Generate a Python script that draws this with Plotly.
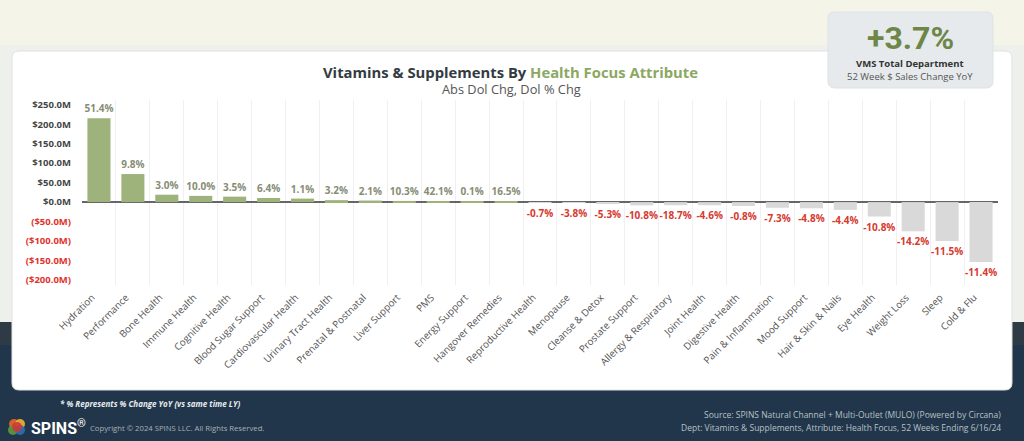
import plotly.graph_objects as go

categories = ["Hydration", "Performance", "Bone Health", "Immune Health", "Cognitive Health",
              "Blood Sugar Support", "Cardiovascular Health", "Urinary Tract Health",
              "Prenatal & Postnatal", "Liver Support", "PMS", "Energy Support", "Hangover Remedies",
              "Reproductive Health", "Menopause", "Cleanse & Detox", "Prostate Support",
              "Allergy & Respiratory", "Joint Health", "Digestive Health", "Pain & Inflammation",
              "Mood Support", "Hair & Skin & Nails", "Eye Health", "Weight Loss", "Sleep", "Cold & Flu"]
abs_dol_chg_m = [215, 72, 19, 16, 14, 10.5, 9, 5, 4, 3, 2, 1, 0.6,
                 -0.6, -1.5, -5, -8.5, -8, -8, -10, -14.5, -16, -20, -37, -75, -100, -154]
pct_chg = ["51.4%", "9.8%", "3.0%", "10.0%", "3.5%", "6.4%", "1.1%", "3.2%", "2.1%", "10.3%",
           "42.1%", "0.1%", "16.5%", "-0.7%", "-3.8%", "-5.3%", "-10.8%", "-18.7%", "-4.6%",
           "-0.8%", "-7.3%", "-4.8%", "-4.4%", "-10.8%", "-14.2%", "-11.5%", "-11.4%"]
y_tick_vals = [250, 200, 150, 100, 50, 0, -50, -100, -150, -200]
y_tick_text = ["$250.0M", "$200.0M", "$150.0M", "$100.0M", "$50.0M", "$0.0M",
               "($50.0M)", "($100.0M)", "($150.0M)", "($200.0M)"]

W, H = 1024, 441
L, R, T, B = 82, 998, 100, 285
PW, PH = R - L, B - T


def px(x):
    return (x - L) / PW


def py(y):
    return (B - y) / PH


def rrect(x0, y0, x1, y1, r):
    pts = [
        ("M", [(x0 + r, y0)]), ("L", [(x1 - r, y0)]), ("Q", [(x1, y0), (x1, y0 + r)]),
        ("L", [(x1, y1 - r)]), ("Q", [(x1, y1), (x1 - r, y1)]), ("L", [(x0 + r, y1)]),
        ("Q", [(x0, y1), (x0, y1 - r)]), ("L", [(x0, y0 + r)]), ("Q", [(x0, y0), (x0 + r, y0)]),
    ]
    s = ""
    for cmd, ps in pts:
        s += cmd + " " + " ".join(f"{px(a):.5f},{py(b):.5f}" for a, b in ps) + " "
    return s + "Z"


GREEN = "#9db37b"
GRAY = "#d9d9d9"
RED = "#d63a30"

colors = [GREEN if v >= 0 else GRAY for v in abs_dol_chg_m]
text_colors = ["#868d76" if v >= 0 else RED for v in abs_dol_chg_m]

fig = go.Figure()
fig.add_trace(go.Bar(
    x=categories, y=abs_dol_chg_m, marker_color=colors, marker_line_width=0,
    text=[f"<b>{p}</b>" for p in pct_chg], textposition="outside",
    textfont=dict(size=10, color=text_colors, family="Open Sans"),
    constraintext="none", cliponaxis=False, hoverinfo="skip",
))

shapes = []
# background bands
shapes.append(dict(type="rect", xref="paper", yref="paper", x0=px(0), x1=px(W), y0=py(322), y1=py(45),
                   fillcolor="#eef0eb", line_width=0, layer="below"))
shapes.append(dict(type="rect", xref="paper", yref="paper", x0=px(0), x1=px(W), y0=py(H), y1=py(322),
                   fillcolor="#21364a", line_width=0, layer="below"))
shapes.append(dict(type="rect", xref="paper", yref="paper", x0=px(0), x1=px(W), y0=py(345), y1=py(322),
                   fillcolor="#2e3a44", line_width=0, layer="below"))
# white panel
shapes.append(dict(type="path", xref="paper", yref="paper", path=rrect(12, 51, 1012, 390, 7),
                   fillcolor="white", line=dict(color="#e2e2e2", width=1), layer="below"))
# KPI box
shapes.append(dict(type="path", xref="paper", yref="paper", path=rrect(828, 12, 993, 88, 7),
                   fillcolor="#e6eaec", line=dict(color="#dde2e5", width=1), layer="above"))
# SPINS logo
logo = [(14, 424, "#e8662a"), (20, 424, "#f2b233"), (13, 430, "#5a9a3c"), (20, 430, "#2f6fb0"), (17, 427, "#c93a3a")]
for cx, cy, c in logo:
    shapes.append(dict(type="circle", xref="paper", yref="paper", x0=px(cx - 5), x1=px(cx + 5),
                       y0=py(cy + 5), y1=py(cy - 5), fillcolor=c, line_width=0, opacity=0.9, layer="above"))

ann = []


def add_text(x, y, text, size, color, xanchor="center", family="Open Sans"):
    ann.append(dict(x=px(x), y=py(y), xref="paper", yref="paper", text=text, showarrow=False,
                    xanchor=xanchor, yanchor="middle", font=dict(size=size, color=color, family=family)))


add_text(510, 72, "<b><span style='color:#333b42'>Vitamins &amp; Supplements By </span>"
                  "<span style='color:#8ba862'>Health Focus Attribute</span></b>", 14.8, "#333b42")
add_text(511, 89, "Abs Dol Chg, Dol % Chg", 12.8, "#555555")
add_text(910, 38, "<b>+3.7%</b>", 32, "#6c8748", family="Roboto")
add_text(910, 63, "<b>VMS Total Department</b>", 9.5, "#333333")
add_text(910, 76, "52 Week $ Sales Change YoY", 9.5, "#555555")
add_text(58, 403, "<b><i>* % Represents % Change YoY (vs same time LY)</i></b>", 8, "#e8ecef", xanchor="left")
add_text(29, 427, "<b>SPINS</b><sup>®</sup>", 16, "#ffffff", xanchor="left", family="Roboto")
add_text(88, 428, "Copyright © 2024 SPINS LLC. All Rights Reserved.", 7.7, "#a9b0b6", xanchor="left")
add_text(1003, 414, "Source: SPINS Natural Channel + Multi-Outlet (MULO) (Powered by Circana)", 8.5,
         "#b9c0c6", xanchor="right")
add_text(1003, 427, "Dept: Vitamins &amp; Supplements, Attribute: Health Focus, 52 Weeks Ending 6/16/24", 8.5,
         "#b9c0c6", xanchor="right")

ticktext = []
for v, t in zip(y_tick_vals, y_tick_text):
    if v < 0:
        ticktext.append(f"<b><span style='color:#e0322c'>{t}</span></b>")
    else:
        ticktext.append(f"<b>{t}</b>")

y0_val = 202.1
scale = 0.3896
fig.update_layout(
    width=W, height=H,
    margin=dict(l=L, r=W - R, t=T, b=H - B, pad=0),
    paper_bgcolor="#f5f4e8", plot_bgcolor="rgba(0,0,0,0)",
    showlegend=False, bargap=0.32,
    shapes=shapes, annotations=ann,
    xaxis=dict(type="category", tickson="boundaries", showgrid=True, gridcolor="#f0f0f0", gridwidth=1,
               ticks="", tickangle=-45, tickfont=dict(size=9.8, color="#555555", family="Open Sans"),
               showline=False, zeroline=False, fixedrange=True, ticklabelstandoff=4, ticklabelshift=-7),
    yaxis=dict(range=[-(B - y0_val) / scale, (y0_val - T) / scale], tickvals=y_tick_vals, ticktext=ticktext,
               tickfont=dict(size=9.5, color="#454545", family="Open Sans"), showgrid=False,
               zeroline=True, zerolinecolor="#666666", zerolinewidth=1.5, ticks="",
               ticklabelstandoff=10, fixedrange=True),
)

fig.write_html("out.html", config={"displayModeBar": False},
               post_script="document.body.style.margin='0px';document.body.style.overflow='hidden';")
